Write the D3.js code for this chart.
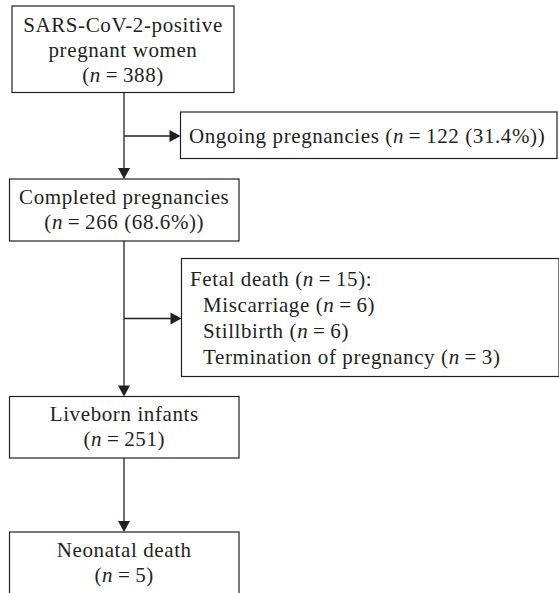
<!DOCTYPE html>
<html>
<head>
<meta charset="utf-8">
<script src="https://cdn.jsdelivr.net/npm/d3@7"></script>
<style>
  html, body { margin: 0; padding: 0; background: #fff; }
  svg { display: block; }
</style>
</head>
<body>
<div id="chart"></div>
<script>
// ---------------- data ----------------
const totalWomen = 388;
const ongoingCount = 122;
const completedCount = 266;
const fetalDeathCount = 15;
const fetalDeathTypes = ["Miscarriage", "Stillbirth", "Termination of pregnancy"];
const fetalDeathTypeCounts = [6, 6, 3];
const liveBornCount = 251;
const neonatalDeathCount = 5;

const pct = (a, b) => (100 * a / b).toFixed(1) + "%";
const EQ = "\u2009=\u2009";

const nEq = v => [["(", false], ["n", true], [EQ + v + ")", false]];
const nEqPct = (v, p) => [["(", false], ["n", true], [EQ + v + " (" + p + "))", false]];

const mainBoxes = [
  { id: "women", lines: [[["SARS-CoV-2-positive", false]], [["pregnant women", false]], nEq(totalWomen)] },
  { id: "completed", lines: [[["Completed pregnancies", false]], nEqPct(completedCount, pct(completedCount, totalWomen))] },
  { id: "liveborn", lines: [[["Liveborn infants", false]], nEq(liveBornCount)] },
  { id: "neonatal", lines: [[["Neonatal death", false]], nEq(neonatalDeathCount)] }
];

const sideBoxes = [
  { id: "ongoing", lines: [[["Ongoing pregnancies (", false], ["n", true], [EQ + ongoingCount + " (" + pct(ongoingCount, totalWomen) + "))", false]]] },
  { id: "fetal", lines: [
      [["Fetal death (", false], ["n", true], [EQ + fetalDeathCount + "):", false]],
      ...fetalDeathTypes.map((t, i) => [[t + " (", false], ["n", true], [EQ + fetalDeathTypeCounts[i] + ")", false]])
  ] }
];

// ---------------- layout ----------------
const W = 559, H = 593;
const layout = {
  women:     { x0: 12,  x1: 234, y0: 6,   y1: 92.5, align: "middle", base: 31.5, lh: 25 },
  completed: { x0: 9.5, x1: 239, y0: 179, y1: 241,  align: "middle", base: 204, lh: 25 },
  liveborn:  { x0: 9.5, x1: 239, y0: 396.5, y1: 458, align: "middle", base: 421, lh: 25 },
  neonatal:  { x0: 9.5, x1: 239, y0: 532, y1: 600,  align: "middle", base: 557, lh: 25 },
  ongoing:   { x0: 180.5, x1: 557, y0: 112, y1: 158.5, align: "start", tx: [189], base: 142.5, lh: 26 },
  fetal:     { x0: 181.5, x1: 559, y0: 258.5, y1: 376.5, align: "start", tx: [190, 203, 203, 203], base: 286, lh: 26 }
};
const spineX = 124;
const branchY = { ongoing: 136, fetal: 318.5 };
const stroke = "#231f20";
const fontFamily = "'Liberation Serif', 'Times New Roman', serif";
const fontSize = 21;
const letterSpacing = 0.6;

const svg = d3.select("#chart").append("svg").attr("width", W).attr("height", H);

function drawBox(b) {
  const L = layout[b.id];
  svg.append("rect")
    .attr("x", L.x0).attr("y", L.y0)
    .attr("width", L.x1 - L.x0).attr("height", L.y1 - L.y0)
    .attr("fill", "#fff").attr("stroke", stroke).attr("stroke-width", 1.2);
  const t = svg.append("text")
    .attr("font-family", fontFamily)
    .attr("font-size", fontSize)
    .attr("letter-spacing", letterSpacing)
    .attr("fill", stroke)
    .attr("text-anchor", L.align);
  b.lines.forEach((segs, i) => {
    const x = L.align === "middle" ? (L.x0 + L.x1) / 2 : L.tx[i];
    segs.forEach((s, j) => {
      const ts = t.append("tspan").text(s[0]);
      if (j === 0) ts.attr("x", x).attr("y", L.base + i * L.lh);
      if (s[1]) ts.attr("font-style", "italic");
    });
  });
}

function arrowHead(x, y, dir) {
  const len = 11, half = 6;
  const pts = dir === "down"
    ? [[x, y], [x - half, y - len], [x + half, y - len]]
    : [[x, y], [x - len, y - half], [x - len, y + half]];
  svg.append("path").attr("d", d3.line()(pts) + "Z").attr("fill", stroke);
}
function line(x1, y1, x2, y2) {
  svg.append("line").attr("x1", x1).attr("y1", y1).attr("x2", x2).attr("y2", y2)
    .attr("stroke", stroke).attr("stroke-width", 1.3);
}

for (let i = 0; i < mainBoxes.length - 1; i++) {
  const a = layout[mainBoxes[i].id], b = layout[mainBoxes[i + 1].id];
  line(spineX, a.y1, spineX, b.y0 - 8);
  arrowHead(spineX, b.y0, "down");
}
sideBoxes.forEach(s => {
  const L = layout[s.id];
  const y = branchY[s.id];
  line(spineX, y, L.x0 - 8, y);
  arrowHead(L.x0, y, "right");
});

mainBoxes.forEach(drawBox);
sideBoxes.forEach(drawBox);
</script>
</body>
</html>
